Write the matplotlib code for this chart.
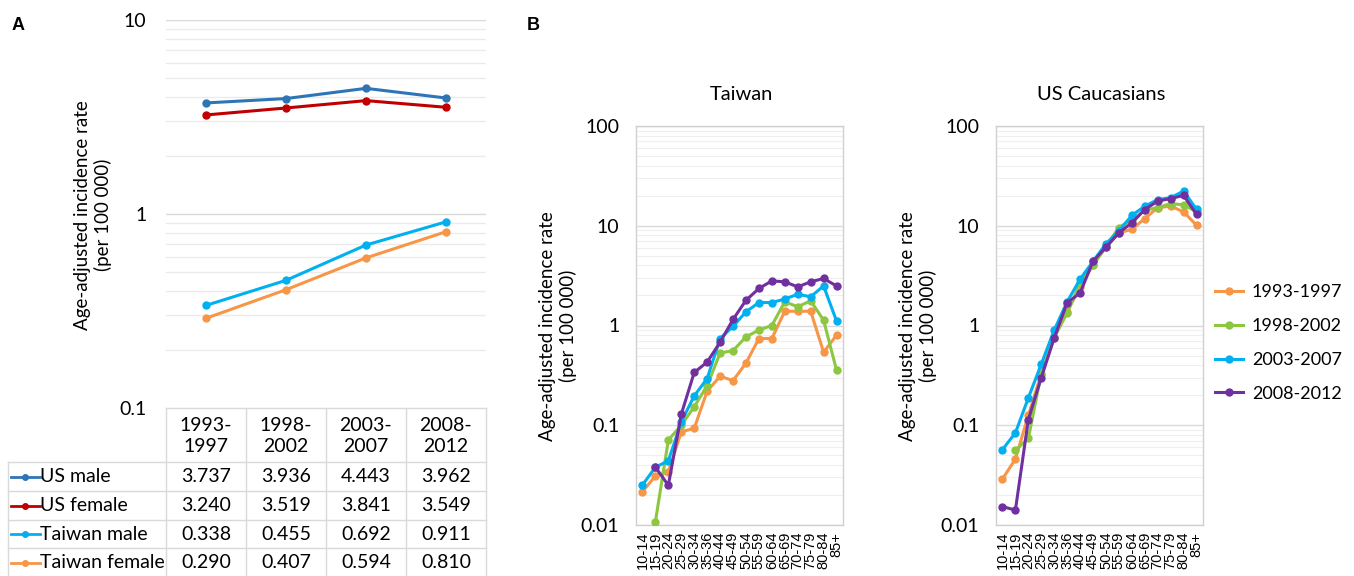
import numpy as np
import matplotlib
matplotlib.use("Agg")
import matplotlib.pyplot as plt
from matplotlib.ticker import FixedLocator, NullFormatter

plt.rcParams['font.family'] = ['Lato', 'DejaVu Sans']

# ---------------- data ----------------
periods = ["1993-1997", "1998-2002", "2003-2007", "2008-2012"]
period_hdr = ["1993-\n1997", "1998-\n2002", "2003-\n2007", "2008-\n2012"]
groupsA = ["US male", "US female", "Taiwan male", "Taiwan female"]
us_male = [3.737, 3.936, 4.443, 3.962]
us_female = [3.240, 3.519, 3.841, 3.549]
tw_male = [0.338, 0.455, 0.692, 0.911]
tw_female = [0.290, 0.407, 0.594, 0.810]
colorsA = ["#2E75B6", "#C00000", "#00B0F0", "#F79646"]

ages = ["10-14", "15-19", "20-24", "25-29", "30-34", "35-36", "40-44", "45-49",
        "50-54", "55-59", "60-64", "65-69", "70-74", "75-79", "80-84", "85+"]
nan = np.nan
tw_1993 = [0.0216, 0.031, 0.034, 0.086, 0.093, 0.22, 0.31, 0.28, 0.42, 0.74, 0.74, 1.39, 1.39, 1.39, 0.54, 0.80]
tw_1998 = [nan, 0.0108, 0.071, 0.10, 0.153, 0.25, 0.53, 0.56, 0.77, 0.90, 1.00, 1.73, 1.54, 1.77, 1.13, 0.357]
tw_2003 = [0.0252, 0.038, 0.044, 0.108, 0.197, 0.294, 0.74, 0.98, 1.37, 1.70, 1.70, 1.84, 2.06, 1.94, 2.49, 1.11]
tw_2008 = [nan, 0.038, 0.025, 0.129, 0.338, 0.43, 0.68, 1.15, 1.79, 2.35, 2.80, 2.74, 2.44, 2.74, 2.96, 2.49]

us_1993 = [0.0289, 0.0458, 0.126, 0.33, 0.75, 1.37, 2.44, 4.08, 6.1, 8.5, 9.2, 11.8, 15.2, 15.7, 13.8, 10.1]
us_1998 = [nan, 0.056, 0.074, 0.33, 0.77, 1.34, 2.64, 4.0, 6.2, 9.6, 11.5, 14.3, 15.2, 16.7, 16.2, 13.8]
us_2003 = [0.057, 0.084, 0.188, 0.41, 0.90, 1.73, 2.91, 4.4, 6.6, 8.9, 12.7, 15.7, 18.3, 19.1, 22.3, 14.6]
us_2008 = [0.0153, 0.0141, 0.114, 0.30, 0.75, 1.69, 2.12, 4.4, 6.1, 8.5, 10.7, 14.5, 17.7, 18.7, 20.2, 13.0]
colorsB = ["#F79646", "#8DC63F", "#00B0F0", "#7030A0"]

W, H = 1354, 576
fig = plt.figure(figsize=(W / 100, H / 100), dpi=100)

def px_rect(x0, y0, x1, y1):
    return [x0 / W, 1 - y1 / H, (x1 - x0) / W, (y1 - y0) / H]

ylab = "Age-adjusted incidence rate\n(per 100 000)"
fs = 14
fs_lab = 13.5
minor_vals = lambda lo, hi: [m * 10.0 ** e for e in range(lo, hi) for m in range(2, 10)]

# ---------------- Panel A ----------------
axA = fig.add_axes(px_rect(166, 20, 486, 408))
axA.set_yscale('log')
axA.set_ylim(0.1, 10)
axA.set_xlim(-0.5, 3.5)
xA = np.arange(len(periods))
for vals, c in zip([us_male, us_female, tw_male, tw_female], colorsA):
    axA.plot(xA, vals, color=c, lw=2.2, marker='o', ms=5, zorder=3)
axA.yaxis.set_major_locator(FixedLocator([0.1, 1, 10]))
axA.yaxis.set_minor_locator(FixedLocator(minor_vals(-1, 1)))
axA.yaxis.set_minor_formatter(NullFormatter())
axA.set_yticklabels(["0.1", "1", "10"])
axA.tick_params(axis='y', which='both', length=0, labelsize=fs, pad=14)
axA.tick_params(axis='x', bottom=False, labelbottom=False)
axA.grid(axis='y', which='major', color='#D9D9D9', lw=1)
axA.grid(axis='y', which='minor', color='#EBEBEB', lw=1)
for s in axA.spines.values():
    s.set_visible(False)
fig.text(93 / W, 1 - 215 / H, ylab, rotation=90, ha='center', va='center',
         fontsize=fs_lab, linespacing=1.2)

# table under panel A (overlay axes in pixel units)
tb = fig.add_axes([0, 0, 1, 1], zorder=-1)
tb.set_xlim(0, W)
tb.set_ylim(H, 0)
tb.axis('off')
gc = '#D9D9D9'
col_edges = [166, 246, 326, 406, 486]
row_edges = [462, 491, 520, 548, 577]
tb.plot([166, 486], [408, 408], color=gc, lw=1)
for y in row_edges[:-1]:
    tb.plot([8, 486], [y, y], color=gc, lw=1)
tb.plot([8, 8], [462, 577], color=gc, lw=1)
for x in col_edges:
    tb.plot([x, x], [408, 577], color=gc, lw=1)
for j, h in enumerate(period_hdr):
    tb.text((col_edges[j] + col_edges[j + 1]) / 2, 436, h, ha='center', va='center',
            fontsize=fs, linespacing=1.25)
tableA = [us_male, us_female, tw_male, tw_female]
for i, (g, vals, c) in enumerate(zip(groupsA, tableA, colorsA)):
    yc = (row_edges[i] + row_edges[i + 1]) / 2
    tb.plot([11, 40], [yc, yc], color=c, lw=2)
    tb.plot([25], [yc], marker='o', color=c, ms=4)
    tb.text(40, yc, g, ha='left', va='center', fontsize=fs)
    for j, v in enumerate(vals):
        tb.text((col_edges[j] + col_edges[j + 1]) / 2, yc, f"{v:.3f}",
                ha='center', va='center', fontsize=fs)

fig.text(12 / W, 1 - 25 / H, "A", fontsize=13, fontweight='bold', family='Liberation Sans',
         ha='left', va='center')
fig.text(527 / W, 1 - 25 / H, "B", fontsize=13, fontweight='bold', family='Liberation Sans',
         ha='left', va='center')

# ---------------- Panel B ----------------
def panelB(x0, title, series, lab_x):
    ax = fig.add_axes(px_rect(x0, 126, x0 + 207, 525))
    ax.set_yscale('log')
    ax.set_ylim(0.01, 100)
    xs = np.arange(len(ages))
    ax.set_xlim(-0.5, len(ages) - 0.5)
    lines = []
    for vals, c, lbl in zip(series, colorsB, periods):
        ln, = ax.plot(xs, vals, color=c, lw=2.2, marker='o', ms=5, label=lbl, zorder=3)
        lines.append(ln)
    ax.yaxis.set_major_locator(FixedLocator([0.01, 0.1, 1, 10, 100]))
    ax.yaxis.set_minor_locator(FixedLocator(minor_vals(-2, 2)))
    ax.yaxis.set_minor_formatter(NullFormatter())
    ax.set_yticklabels(["0.01", "0.1", "1", "10", "100"])
    ax.tick_params(axis='y', which='both', length=0, labelsize=fs, pad=12)
    ax.set_xticks(xs)
    ax.set_xticklabels(ages, rotation=90, fontsize=10.5, family='Liberation Sans')
    ax.tick_params(axis='x', length=0, pad=5)
    ax.grid(axis='y', which='major', color='#D9D9D9', lw=1)
    ax.grid(axis='y', which='minor', color='#EFEFEF', lw=0.8)
    for s in ax.spines.values():
        s.set_color('#D0D0D0')
        s.set_linewidth(1)
    fig.text((x0 + 105) / W, 1 - 95 / H, title, ha='center', va='center', fontsize=14.5)
    fig.text(lab_x / W, 1 - 326 / H, ylab, rotation=90, ha='center', va='center',
             fontsize=fs_lab, linespacing=1.2)
    return lines

panelB(636, "Taiwan", [tw_1993, tw_1998, tw_2003, tw_2008], 558)
lines = panelB(996, "US Caucasians", [us_1993, us_1998, us_2003, us_2008], 918)

fig.legend(lines, periods, loc='center left', bbox_to_anchor=(1215 / W, 1 - 343 / H),
           frameon=False, fontsize=13, handlelength=1.55, handletextpad=0.5,
           labelspacing=0.98, borderaxespad=0, borderpad=0)

fig.savefig("out.png", dpi=100)
